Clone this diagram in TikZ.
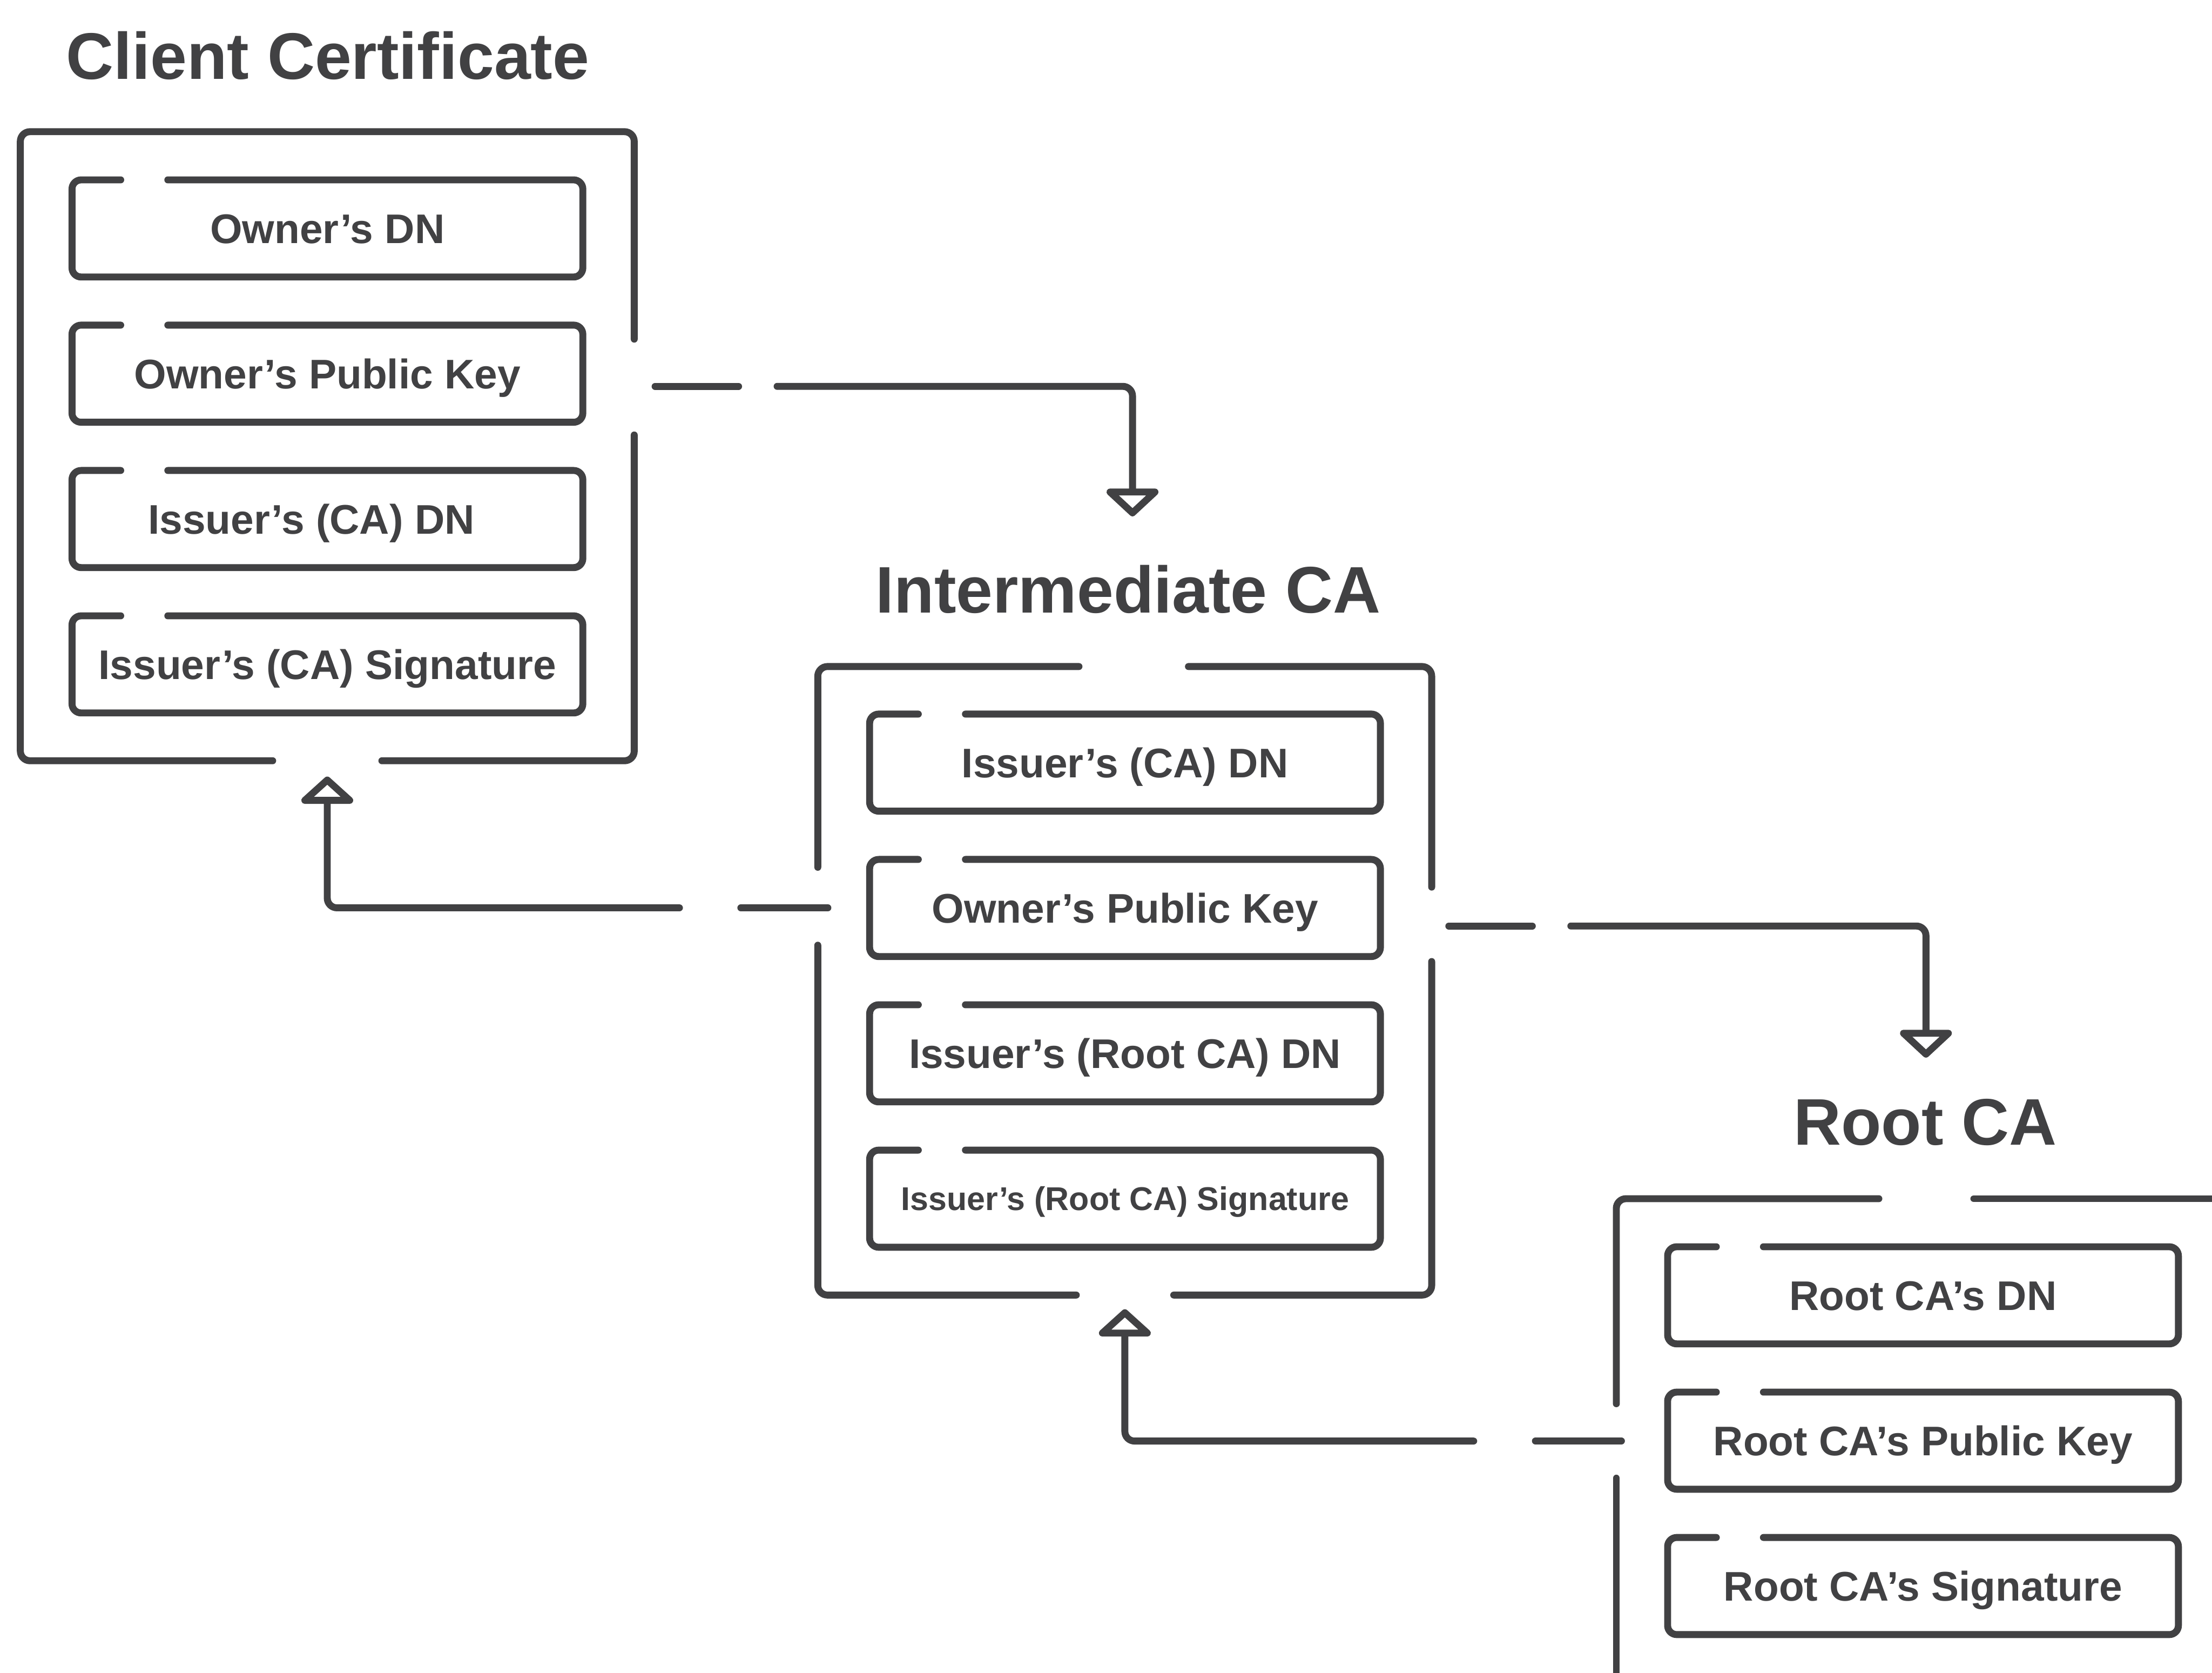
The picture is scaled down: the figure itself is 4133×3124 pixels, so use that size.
\documentclass[tikz,border=0pt]{standalone}
\usepackage{fontspec}
\setmainfont{Liberation Sans}
\usetikzlibrary{calc}
\definecolor{ink}{HTML}{414143}
\tikzset{
  frame/.style={draw=ink, line width=3.7pt, line cap=round, line join=round, rounded corners=1.8mm},
  field/.style={minimum width=9.53cm, minimum height=1.8cm, inner sep=0pt,
    text height=0.55cm, text depth=0pt, text=ink, font=\bfseries\fontsize{22}{26}\selectfont},
  fieldsmall/.style={field, text height=0.44cm, font=\bfseries\fontsize{17.5}{21}\selectfont},
  title/.style={anchor=base, inner sep=0pt, text=ink, font=\bfseries\fontsize{35}{40}\selectfont},
  link/.style={draw=ink, line width=3.7pt, line cap=round, line join=round, rounded corners=1.8mm},
  tiphead/.style={draw=ink, fill=white, line width=3.7pt, line join=round},
}
% frame of a field box, open at the top left
\newcommand\fieldframe[1]{%
  \draw[frame, rounded corners=1.7mm] ($(#1.north west)+(179,0)$) -- (#1.north east)
    -- (#1.south east) -- (#1.south west) -- (#1.north west) -- ($(#1.north west)+(91,0)$);}
% open triangular heads
\newcommand\headdown[1]{\draw[tiphead] ($(#1)+(-42,0)$) -- ($(#1)+(42,0)$) -- ($(#1)+(0,39)$) -- cycle;}
\newcommand\headup[1]{\draw[tiphead] ($(#1)+(-42,0)$) -- ($(#1)+(42,0)$) -- ($(#1)+(0,-38)$) -- cycle;}

\begin{document}
\begin{tikzpicture}[x=0.1mm, y=-0.1mm]
\useasboundingbox (0,0) rectangle (4133,3124);
\clip (0,0) rectangle (4133,3124);
\fill[white] (0,0) rectangle (4133,3124);

% ---------- Client certificate ----------
\node[title] (ctitle) at (612.5,148) {Client Certificate};
\draw[frame] (1185,633.5) -- (1185,246) -- (38,246) -- (38,1421) -- (509.5,1421);
\draw[frame] (713.5,1421) -- (1185,1421) -- (1185,812.5);

\node[field] (cdn)  at (611.75,426.7) {Owner’s DN};
\node[field] (cpk)  at (611.75,698)   {Owner’s Public Key};
\node[field] (cidn) at (611.75,969.5) {\hspace*{-0.6cm}Issuer’s (CA) DN};
\node[field] (csig) at (611.75,1241)  {Issuer’s (CA) Signature};
\fieldframe{cdn}\fieldframe{cpk}\fieldframe{cidn}\fieldframe{csig}

% ---------- Intermediate CA ----------
\node[title] (ititle) at (2108,1145) {Intermediate CA};
\draw[frame] (2016,1245) -- (1528,1245) -- (1528,1620);
\draw[frame] (2220.5,1245) -- (2675,1245) -- (2675,1657);
\draw[frame] (1528,1765.5) -- (1528,2419) -- (2011,2419);
\draw[frame] (2193,2419) -- (2675,2419) -- (2675,1796);

\node[field] (idn)  at (2102,1424.5) {Issuer’s (CA) DN};
\node[field] (ipk)  at (2102,1696)   {Owner’s Public Key};
\node[field] (irdn) at (2102,1967.5) {Issuer’s (Root CA) DN};
\node[fieldsmall] (irsig) at (2102,2239) {Issuer’s (Root CA) Signature};
\fieldframe{idn}\fieldframe{ipk}\fieldframe{irdn}\fieldframe{irsig}

% ---------- Root CA ----------
\node[title] (rtitle) at (3597,2138.8) {Root CA};
\draw[frame] (3510.5,2239) -- (3020,2239) -- (3020,2622);
\draw[frame] (3688,2239) -- (4160,2239);
\draw[frame] (3020,2761) -- (3020,3160);

\node[field] (rdn)  at (3593,2419.5) {Root CA’s DN};
\node[field] (rpk)  at (3593,2691)   {Root CA’s Public Key};
\node[field] (rsig) at (3593,2962.5) {Root CA’s Signature};
\fieldframe{rdn}\fieldframe{rpk}\fieldframe{rsig}

% ---------- connector ends ----------
\coordinate (c2i-a) at (1224,721.7);
\coordinate (c2i-b) at (1380,721.7);
\coordinate (c2i-c) at (1452,721.7);
\coordinate (c2i-h) at (2116,919);

\coordinate (i2c-a) at (1546.8,1695.7);
\coordinate (i2c-b) at (1384.2,1695.7);
\coordinate (i2c-c) at (1269.5,1695.7);
\coordinate (i2c-h) at (611.5,1495);

\coordinate (i2r-a) at (2707,1729.7);
\coordinate (i2r-b) at (2863,1729.7);
\coordinate (i2r-c) at (2935,1729.7);
\coordinate (i2r-h) at (3598.5,1930);

\coordinate (r2i-a) at (3029.5,2691.7);
\coordinate (r2i-b) at (2868.8,2691.7);
\coordinate (r2i-c) at (2753.5,2691.7);
\coordinate (r2i-h) at (2101.7,2490);

% ---------- connectors ----------
\draw[link] (c2i-a) -- (c2i-b);
\draw[link] (c2i-c) -| (c2i-h);
\headdown{c2i-h}

\draw[link] (i2c-a) -- (i2c-b);
\draw[link] (i2c-c) -| (i2c-h);
\headup{i2c-h}

\draw[link] (i2r-a) -- (i2r-b);
\draw[link] (i2r-c) -| (i2r-h);
\headdown{i2r-h}

\draw[link] (r2i-a) -- (r2i-b);
\draw[link] (r2i-c) -| (r2i-h);
\headup{r2i-h}
\end{tikzpicture}
\end{document}
